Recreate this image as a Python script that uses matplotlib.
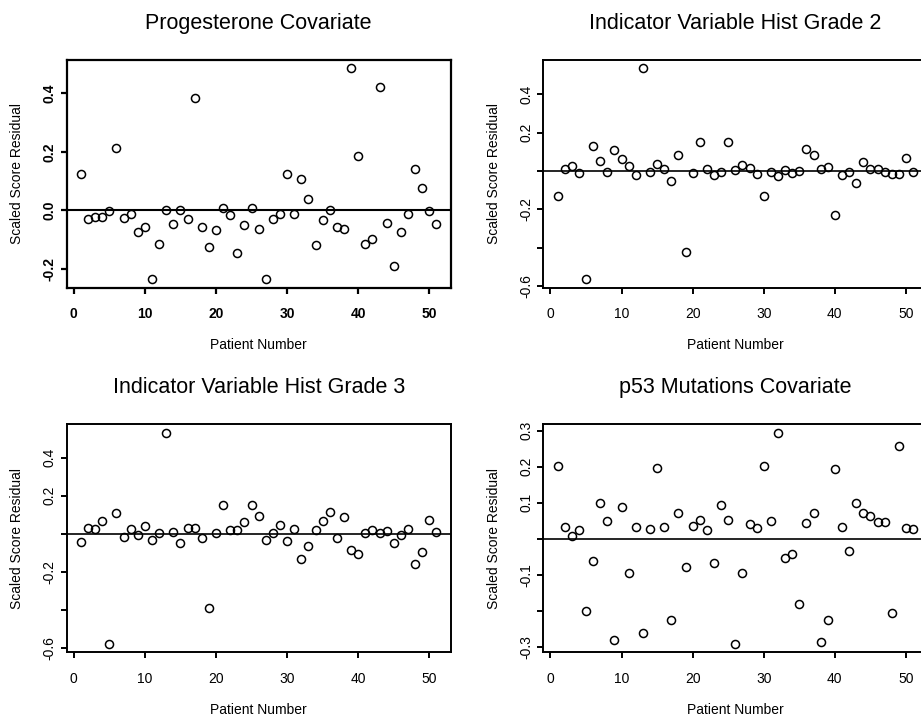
import matplotlib
matplotlib.use("Agg")
import matplotlib.pyplot as plt
import numpy as np

plt.rcParams['font.family'] = ['Liberation Sans', 'DejaVu Sans']

patients = list(range(1, 52))

progesterone = [0.124, -0.030, -0.022, -0.023, -0.003, 0.214, -0.025, -0.0125, -0.073, -0.058,
                -0.234, -0.116, 0.003, -0.047, 0.003, -0.030, 0.385, -0.056, -0.126, -0.067,
                0.007, -0.017, -0.144, -0.048, 0.007, -0.065, -0.235, -0.030, -0.0125, 0.124,
                -0.0125, 0.106, 0.039, -0.117, -0.033, 0.0, -0.056, -0.0625, 0.485, 0.1875,
                -0.116, -0.098, 0.420, -0.044, -0.189, -0.075, -0.0125, 0.142, 0.078, -0.001,
                -0.045]

grade2 = [-0.130, 0.009, 0.028, -0.012, -0.565, 0.132, 0.052, -0.003, 0.108, 0.061,
          0.028, -0.021, 0.536, -0.005, 0.035, 0.012, -0.052, 0.082, -0.421, -0.012,
          0.151, 0.009, -0.021, -0.005, 0.151, 0.005, 0.030, 0.014, -0.016, -0.130,
          -0.005, -0.028, 0.005, -0.012, -0.002, 0.117, 0.082, 0.009, 0.023, -0.230,
          -0.021, -0.005, -0.061, 0.045, 0.012, 0.012, -0.003, -0.017, -0.017, 0.070,
          -0.003]

grade3 = [-0.042, 0.028, 0.0245, 0.068, -0.577, 0.107, -0.019, 0.0245, -0.007, 0.040,
          -0.0315, 0.002, 0.530, 0.007, -0.049, 0.028, 0.033, -0.023, -0.390, 0.005,
          0.150, 0.021, 0.021, 0.063, 0.150, 0.093, -0.030, 0.0035, 0.044, -0.040,
          0.0245, -0.131, -0.065, 0.021, 0.066, 0.117, -0.023, 0.089, -0.086, -0.107,
          0.002, 0.021, 0.0035, 0.016, -0.047, -0.005, 0.0245, -0.156, -0.096, 0.070,
          0.007]

p53 = [0.2005, 0.031, 0.007, 0.023, -0.202, -0.062, 0.099, 0.048, -0.282, 0.088,
       -0.096, 0.033, -0.263, 0.027, 0.195, 0.031, -0.226, 0.071, -0.079, 0.036,
       0.052, 0.023, -0.067, 0.094, 0.052, -0.292, -0.095, 0.041, 0.030, 0.2005,
       0.048, 0.294, -0.054, -0.043, -0.180, 0.043, 0.071, -0.287, -0.225, 0.193,
       0.033, -0.033, 0.099, 0.070, 0.064, 0.047, 0.047, -0.205, 0.256, 0.029,
       0.027]

titles = ["Progesterone Covariate", "Indicator Variable Hist Grade 2",
          "Indicator Variable Hist Grade 3", "p53 Mutations Covariate"]
series = [progesterone, grade2, grade3, p53]
xticks = [0, 10, 20, 30, 40, 50]
yticks = [[-0.2, 0.0, 0.2, 0.4],
          [-0.6, -0.4, -0.2, 0.0, 0.2, 0.4],
          [-0.6, -0.4, -0.2, 0.0, 0.2, 0.4],
          [-0.3, -0.2, -0.1, 0.0, 0.1, 0.2, 0.3]]
ytlabels = [["-0.2", "0.0", "0.2", "0.4"],
            ["-0.6", "", "-0.2", "", "0.2", "0.4"],
            ["-0.6", "", "-0.2", "", "0.2", "0.4"],
            ["-0.3", "", "-0.1", "", "0.1", "0.2", "0.3"]]

W, H = 921, 720
fig = plt.figure(figsize=(W / 100, H / 100), dpi=100)

boxes = [(66.7, 60, 384, 227.7), (543.3, 60, 384, 227.7),
         (66.7, 424.3, 384, 228), (543.3, 424.3, 384, 228)]

for i, (vals, title) in enumerate(zip(series, titles)):
    l, t, w, h = boxes[i]
    ax = fig.add_axes([l / W, 1 - (t + h) / H, w / W, h / H])
    bold = (i == 0)
    lw = 1.6 if bold else 1.4
    ax.plot(patients, vals, linestyle='none', marker='o', markersize=5.8,
            markerfacecolor='none', markeredgecolor='black', markeredgewidth=1.1)
    ax.axhline(0, color='black', lw=1.5 if bold else 1.2)
    ymin, ymax = min(vals), max(vals)
    pad = 0.04 * (ymax - ymin)
    ax.set_ylim(ymin - pad, ymax + pad)
    ax.set_xlim(-1, 53)
    ax.set_xticks(xticks)
    ax.set_xticklabels([str(v) for v in xticks], fontsize=10,
                       fontweight='bold' if bold else 'normal')
    ax.set_yticks(yticks[i])
    ax.set_yticklabels(ytlabels[i], fontsize=10, rotation=90, va='center',
                       fontweight='bold' if bold else 'normal')
    for s in ax.spines.values():
        s.set_linewidth(lw)
    ax.tick_params(axis='both', direction='out', length=4, width=lw)
    ax.tick_params(axis='x', pad=10)
    ax.tick_params(axis='y', pad=3.2)
    ax.set_xlabel("Patient Number", fontsize=10, labelpad=12.4)
    ax.set_ylabel("Scaled Score Residual", fontsize=10, labelpad=13.3)
    ax.set_title(title, fontsize=15.5, pad=22.5)

fig.savefig("out.png", dpi=100)
